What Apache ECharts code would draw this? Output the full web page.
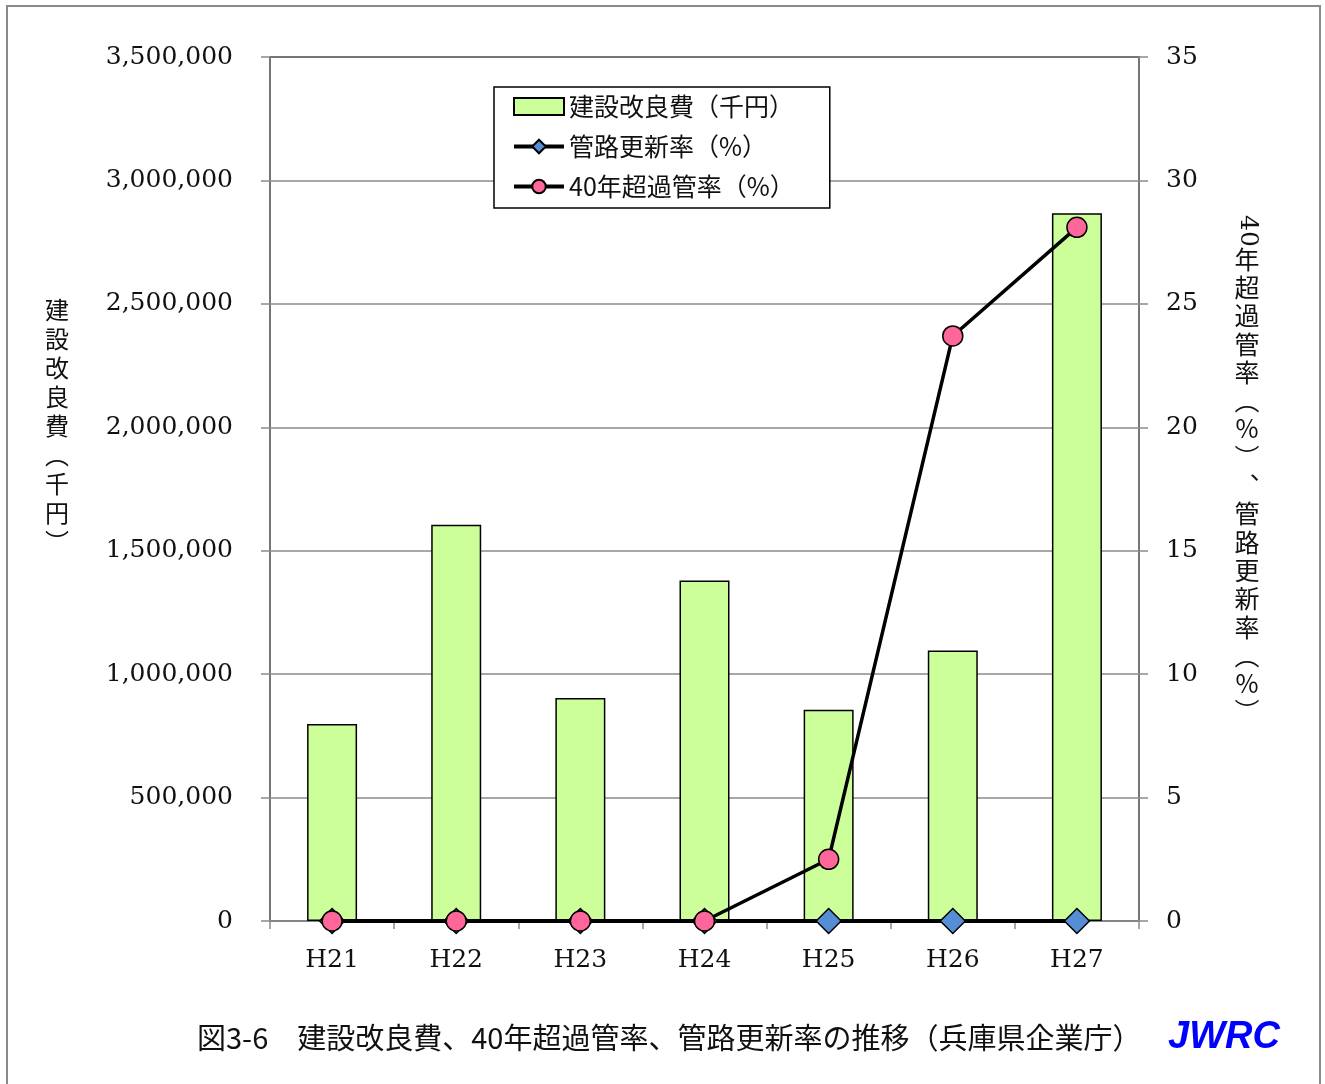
<!DOCTYPE html>
<html>
<head>
<meta charset="utf-8">
<script src="https://cdn.jsdelivr.net/npm/echarts@6/dist/echarts.min.js"></script>
<style>
  html, body { margin: 0; padding: 0; background: #fff; }
  #chart { width: 1325px; height: 1084px; }
</style>
</head>
<body>
<div id="chart"></div>
<script>
// ---- data ----
var categories = ['H21', 'H22', 'H23', 'H24', 'H25', 'H26', 'H27'];
var constructionCost = [798000, 1605000, 903000, 1379000, 856000, 1096000, 2867000]; // 千円
var pipeRenewalRate = [0, 0, 0, 0, 0, 0, 0];                                          // %
var over40Rate = [0, 0, 0, 0, 2.5, 23.7, 28.1];                                      // %
var leftTicks = { min: 0, max: 3500000, interval: 500000 };
var rightTicks = { min: 0, max: 35, interval: 5 };

var seriesNames = ['建設改良費（千円）', '管路更新率（%）', '40年超過管率（%）'];
var captionText = '図3-6　建設改良費、40年超過管率、管路更新率の推移（兵庫県企業庁）';
var leftTitleChars = ['建', '設', '改', '良', '費', '︵', '千', '円', '︶'];
var rightTitleHead = '40';
var rightTitleChars = ['年', '超', '過', '管', '率', '︵', '%', '︶', '︑', '管', '路', '更', '新', '率', '︵', '%', '︶'];

var FONT = '"DejaVu Serif", "Noto Sans CJK JP", serif';
var CJK = '"Noto Sans CJK JP", "DejaVu Serif", sans-serif';
var GRAY = '#8a8a8a';

function commas(v) {
  return String(v).replace(/\B(?=(\d{3})+(?!\d))/g, ',');
}

var chart = echarts.init(document.getElementById('chart'), null, { renderer: 'canvas' });

var option = {
  animation: false,
  backgroundColor: '#ffffff',
  grid: {
    left: 270, top: 57, width: 869, height: 864,
    show: true, borderColor: '#000', borderWidth: 1.5, backgroundColor: 'transparent',
    containLabel: false, outerBoundsMode: 'none'
  },
  legend: {
    left: 494, top: 87,
    orient: 'vertical',
    itemGap: 15,
    itemWidth: 50,
    itemHeight: 17,
    padding: [7, 35, 9, 18],
    borderColor: '#000',
    borderWidth: 1.5,
    backgroundColor: '#fff',
    lineStyle: { width: 4, color: '#000' },
    textStyle: { fontFamily: CJK, fontSize: 25, color: '#111' },
    data: [
      { name: seriesNames[0], icon: 'rect' },
      { name: seriesNames[1] },
      { name: seriesNames[2] }
    ]
  },
  xAxis: {
    type: 'category',
    data: categories,
    boundaryGap: true,
    axisLine: { show: true, lineStyle: { color: GRAY, width: 1.5 } },
    axisTick: { show: true, alignWithLabel: false, length: 8, inside: false, lineStyle: { color: GRAY, width: 1.5 } },
    axisLabel: { fontFamily: FONT, fontSize: 25, color: '#111', margin: 27 },
    splitLine: { show: false }
  },
  yAxis: [
    {
      type: 'value',
      position: 'left',
      min: leftTicks.min, max: leftTicks.max, interval: leftTicks.interval,
      axisLine: { show: true, lineStyle: { color: GRAY, width: 1.5 } },
      axisTick: { show: true, length: 9, lineStyle: { color: GRAY, width: 1.5 } },
      axisLabel: { fontFamily: FONT, fontSize: 25, color: '#111', margin: 37, formatter: commas },
      splitLine: { show: true, lineStyle: { color: GRAY, width: 1.5 } }
    },
    {
      type: 'value',
      position: 'right',
      min: rightTicks.min, max: rightTicks.max, interval: rightTicks.interval,
      axisLine: { show: true, lineStyle: { color: GRAY, width: 1.5 } },
      axisTick: { show: true, length: 9, lineStyle: { color: GRAY, width: 1.5 } },
      axisLabel: { fontFamily: FONT, fontSize: 25, color: '#111', margin: 27 },
      splitLine: { show: false }
    }
  ],
  series: [
    {
      name: seriesNames[0],
      type: 'bar',
      yAxisIndex: 0,
      data: constructionCost,
      barWidth: 50,
      itemStyle: { color: '#ccff99', borderColor: '#000', borderWidth: 1.5 }
    },
    {
      name: seriesNames[1],
      type: 'line',
      yAxisIndex: 1,
      data: pipeRenewalRate,
      symbol: 'diamond',
      symbolSize: 25,
      showAllSymbol: true,
      lineStyle: { color: '#000', width: 4 },
      itemStyle: { color: '#558ed5', borderColor: '#000', borderWidth: 1.5 },
      z: 3
    },
    {
      name: seriesNames[2],
      type: 'line',
      yAxisIndex: 1,
      data: over40Rate,
      symbol: 'circle',
      symbolSize: 20,
      showAllSymbol: true,
      lineStyle: { color: '#000', width: 3.5 },
      itemStyle: { color: '#ff6699', borderColor: '#000', borderWidth: 1.5 },
      z: 4
    }
  ],
  graphic: [
    {
      type: 'rect',
      shape: { x: 7, y: 6, width: 1313, height: 1100 },
      style: { fill: 'none', stroke: GRAY, lineWidth: 2 },
      silent: true, z: -10
    },
    {
      type: 'text',
      x: 57, y: 295,
      style: {
        text: leftTitleChars.join('\n'),
        font: '24px ' + CJK,
        fill: '#111',
        align: 'center',
        verticalAlign: 'top',
        lineHeight: 29
      }
    },
    {
      type: 'text',
      x: 1247, y: 231,
      rotation: -Math.PI / 2,
      style: {
        text: rightTitleHead,
        font: '25px ' + FONT,
        fill: '#111',
        align: 'center',
        verticalAlign: 'middle'
      }
    },
    {
      type: 'text',
      x: 1247, y: 245,
      style: {
        text: rightTitleChars.join('\n'),
        font: '25px ' + CJK,
        fill: '#111',
        align: 'center',
        verticalAlign: 'top',
        lineHeight: 28.3
      }
    },
    {
      type: 'text',
      x: 197, y: 1038,
      style: {
        text: captionText,
        font: '29px ' + CJK,
        fill: '#111',
        align: 'left',
        verticalAlign: 'middle'
      }
    },
    {
      type: 'text',
      x: 1168, y: 1038,
      style: {
        text: 'JWRC',
        font: 'italic bold 38px "Liberation Sans", Arial, sans-serif',
        fill: '#0000ff',
        align: 'left',
        verticalAlign: 'middle'
      }
    }
  ]
};

chart.setOption(option);
</script>
</body>
</html>
